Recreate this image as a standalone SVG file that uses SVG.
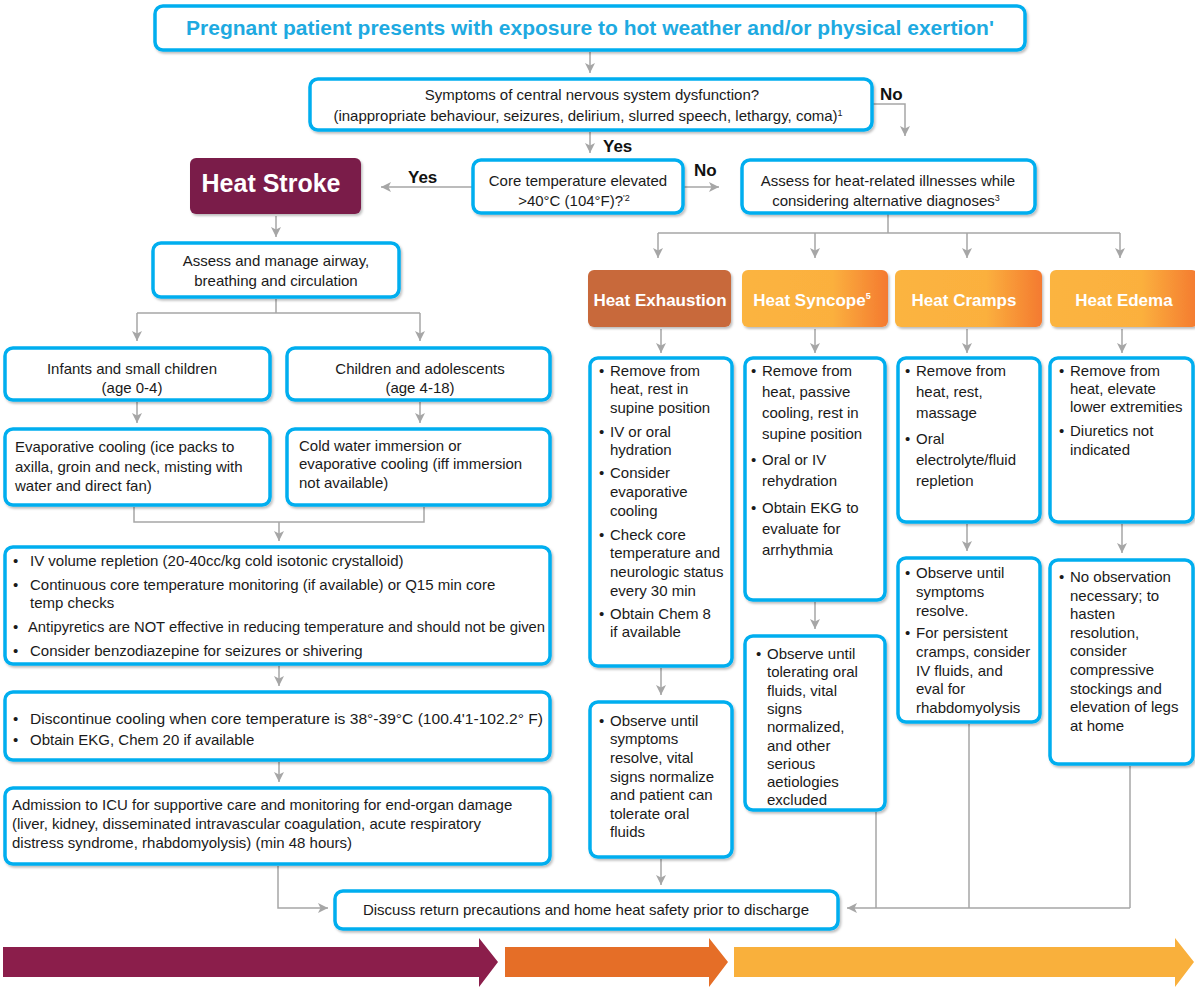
<svg xmlns="http://www.w3.org/2000/svg" width="1195" height="987" viewBox="0 0 1195 987">
<defs>
<style>
.box{fill:#fff;stroke:#00AEEF;stroke-width:3.5;filter:url(#sh)}
.t{font-family:'Liberation Sans',Arial,sans-serif;font-size:15px;fill:#1a1a1a}
.c{text-anchor:middle}
.conn{fill:none;stroke:#A6A6A6;stroke-width:1.5}
.arr{marker-end:url(#ah)}
.lbl{font-family:'Liberation Sans',Arial,sans-serif;font-weight:bold;font-size:17px;fill:#111}
.hd{font-family:'Liberation Sans',Arial,sans-serif;font-weight:bold;font-size:17px;fill:#fff;text-anchor:middle}
.sup{font-size:9px}
</style>
<filter id="sh" x="-5%" y="-5%" width="115%" height="120%">
<feDropShadow dx="1.5" dy="2" stdDeviation="1.2" flood-color="#000" flood-opacity="0.25"/>
</filter>
<linearGradient id="gy" x1="0" y1="0" x2="1" y2="0">
<stop offset="0" stop-color="#FBB440"/>
<stop offset="0.62" stop-color="#FBB03E"/>
<stop offset="1" stop-color="#F47A30"/>
</linearGradient>
<marker id="ah" viewBox="0 0 10 10" refX="10" refY="5" markerWidth="10" markerHeight="10" markerUnits="userSpaceOnUse" orient="auto">
<path d="M0,0 L10,5 L0,10 L2.5,5 Z" fill="#A6A6A6"/>
</marker>
</defs>
<rect width="1195" height="987" fill="#fff"/>

<g id="connectors">
<path class="conn arr" d="M590,52 V73"/>
<path class="conn arr" d="M872,104 H905 V136"/>
<path class="conn arr" d="M590,132 V153"/>
<path class="conn arr" d="M473,187 H381"/>
<path class="conn arr" d="M683,187 H719"/>
<path class="conn" d="M888,214 V233 M658,233 H1120"/>
<path class="conn arr" d="M658,233 V258"/>
<path class="conn arr" d="M815,233 V258"/>
<path class="conn arr" d="M967,233 V258"/>
<path class="conn arr" d="M1120,233 V258"/>
<path class="conn arr" d="M661,329 V353"/>
<path class="conn arr" d="M815,329 V353"/>
<path class="conn arr" d="M967,329 V353"/>
<path class="conn arr" d="M1122,329 V353"/>
<path class="conn arr" d="M661,668 V695"/>
<path class="conn arr" d="M815,602 V629"/>
<path class="conn arr" d="M967,524 V551"/>
<path class="conn arr" d="M1122,524 V553"/>
<path class="conn arr" d="M661,859 V885"/>
<path class="conn" d="M876,812 V908 M969,724 V908 M1130,766 V908"/>
<path class="conn arr" d="M1130,908 H847"/>
<path class="conn arr" d="M276,216 V237"/>
<path class="conn" d="M276,299 V313 M137,313 H420"/>
<path class="conn arr" d="M137,313 V341"/>
<path class="conn arr" d="M420,313 V341"/>
<path class="conn arr" d="M137,402 V423"/>
<path class="conn arr" d="M420,402 V423"/>
<path class="conn" d="M134,507 V522 H424 V507"/>
<path class="conn arr" d="M279,522 V541"/>
<path class="conn arr" d="M279,666 V686"/>
<path class="conn arr" d="M279,762 V782"/>
<path class="conn arr" d="M278,866 V908 H328"/>
</g>

<g id="start">
<rect class="box" x="155" y="6" width="870" height="44" rx="8"/>
<text x="590" y="35" text-anchor="middle" font-family="'Liberation Sans',Arial,sans-serif" font-weight="bold" font-size="21" fill="#1EAAE1">Pregnant patient presents with exposure to hot weather and/or physical exertion'</text>
</g>

<g id="cns">
<rect class="box" x="310" y="79" width="562" height="51" rx="8"/>
<text class="t c" x="592" y="100" font-size="16">Symptoms of central nervous system dysfunction?</text>
<text class="t c" x="588" y="121">(inappropriate behaviour, seizures, delirium, slurred speech, lethargy, coma)<tspan class="sup" dy="-5">1</tspan></text>
</g>

<g id="labels">
<text class="lbl" x="880" y="100">No</text>
<text class="lbl" x="603" y="152">Yes</text>
<text class="lbl" x="408" y="183">Yes</text>
<text class="lbl" x="694" y="176">No</text>
</g>

<g id="core">
<rect class="box" x="473" y="160" width="210" height="53" rx="8"/>
<text class="t c" x="578" y="186">Core temperature elevated</text>
<text class="t c" x="574" y="206">&gt;40°C (104°F)?<tspan class="sup" dy="-5">'2</tspan></text>
</g>

<g id="heatstroke">
<rect x="190" y="158" width="171" height="56" rx="6" fill="#7A1F4A" filter="url(#sh)"/>
<text x="271" y="192" text-anchor="middle" font-family="'Liberation Sans',Arial,sans-serif" font-weight="bold" font-size="25" fill="#fff">Heat Stroke</text>
</g>

<g id="assess">
<rect class="box" x="742" y="160" width="293" height="53" rx="8"/>
<text class="t c" x="888" y="186">Assess for heat-related illnesses while</text>
<text class="t c" x="886" y="206">considering alternative diagnoses<tspan class="sup" dy="-5">3</tspan></text>
</g>

<g id="airway">
<rect class="box" x="153" y="243" width="246" height="54" rx="8"/>
<text class="t c" x="276" y="266">Assess and manage airway,</text>
<text class="t c" x="276" y="286">breathing and circulation</text>
</g>

<g id="infants">
<rect class="box" x="5" y="348" width="265" height="52" rx="8"/>
<text class="t c" x="132" y="374">Infants and small children</text>
<text class="t c" x="132" y="393">(age 0-4)</text>
</g>

<g id="children">
<rect class="box" x="287" y="348" width="263" height="52" rx="8"/>
<text class="t c" x="420" y="374">Children and adolescents</text>
<text class="t c" x="420" y="393">(age 4-18)</text>
</g>

<g id="evap">
<rect class="box" x="5" y="429" width="265" height="76" rx="8"/>
<text class="t" x="15" y="452">Evaporative cooling (ice packs to</text>
<text class="t" x="15" y="472">axilla, groin and neck, misting with</text>
<text class="t" x="15" y="491">water and direct fan)</text>
</g>

<g id="coldwater">
<rect class="box" x="287" y="429" width="263" height="76" rx="8"/>
<text class="t" x="299" y="451">Cold water immersion or</text>
<text class="t" x="299" y="469">evaporative cooling (iff immersion</text>
<text class="t" x="299" y="488">not available)</text>
</g>

<g id="ivbox">
<rect class="box" x="5" y="547" width="545" height="117" rx="8"/>
<text class="t" x="13" y="566">•</text><text class="t" x="30" y="566">IV volume repletion (20-40cc/kg cold isotonic crystalloid)</text>
<text class="t" x="13" y="590">•</text><text class="t" x="30" y="590">Continuous core temperature monitoring (if available) or Q15 min core</text>
<text class="t" x="30" y="608">temp checks</text>
<text class="t" x="13" y="632">•</text><text class="t" x="28" y="632" textLength="517" lengthAdjust="spacingAndGlyphs">Antipyretics are NOT effective in reducing temperature and should not be given</text>
<text class="t" x="13" y="656">•</text><text class="t" x="30" y="656">Consider benzodiazepine for seizures or shivering</text>
</g>

<g id="discontinue">
<rect class="box" x="5" y="692" width="545" height="68" rx="8"/>
<text class="t" x="13" y="724">•</text><text class="t" x="30" y="724" textLength="513" lengthAdjust="spacingAndGlyphs">Discontinue cooling when core temperature is 38°-39°C (100.4'1-102.2° F)</text>
<text class="t" x="13" y="745">•</text><text class="t" x="30" y="745">Obtain EKG, Chem 20 if available</text>
</g>

<g id="icu">
<rect class="box" x="5" y="788" width="545" height="76" rx="8"/>
<text class="t" x="12" y="810">Admission to ICU for supportive care and monitoring for end-organ damage</text>
<text class="t" x="12" y="829">(liver, kidney, disseminated intravascular coagulation, acute respiratory</text>
<text class="t" x="12" y="848">distress syndrome, rhabdomyolysis) (min 48 hours)</text>
</g>

<g id="hdr-exhaustion">
<rect x="588" y="270" width="143" height="57" rx="6" fill="#C8693A" filter="url(#sh)"/>
<text class="hd" x="660" y="306">Heat Exhaustion</text>
</g>
<g id="hdr-syncope">
<rect x="742" y="270" width="146" height="57" rx="6" fill="url(#gy)" filter="url(#sh)"/>
<text class="hd" x="812" y="306">Heat Syncope<tspan class="sup" dy="-7" font-size="10">5</tspan></text>
</g>
<g id="hdr-cramps">
<rect x="895" y="270" width="147" height="57" rx="6" fill="url(#gy)" filter="url(#sh)"/>
<text class="hd" x="964" y="306">Heat Cramps</text>
</g>
<g id="hdr-edema">
<rect x="1050" y="270" width="148" height="57" rx="6" fill="url(#gy)" filter="url(#sh)"/>
<text class="hd" x="1124" y="306">Heat Edema</text>
</g>

<g id="exh-care">
<rect class="box" x="590" y="358" width="142" height="308" rx="8"/>
<text class="t" x="599" y="376">•</text><text class="t" x="610" y="376">Remove from</text>
<text class="t" x="610" y="394">heat, rest in</text>
<text class="t" x="610" y="413">supine position</text>
<text class="t" x="599" y="437">•</text><text class="t" x="610" y="437">IV or oral</text>
<text class="t" x="610" y="455">hydration</text>
<text class="t" x="599" y="478">•</text><text class="t" x="610" y="478">Consider</text>
<text class="t" x="610" y="497">evaporative</text>
<text class="t" x="610" y="516">cooling</text>
<text class="t" x="599" y="540">•</text><text class="t" x="610" y="540">Check core</text>
<text class="t" x="610" y="558">temperature and</text>
<text class="t" x="610" y="577">neurologic status</text>
<text class="t" x="610" y="596">every 30 min</text>
<text class="t" x="599" y="619">•</text><text class="t" x="610" y="619">Obtain Chem 8</text>
<text class="t" x="610" y="637">if available</text>
</g>
<g id="exh-obs">
<rect class="box" x="590" y="702" width="142" height="155" rx="8"/>
<text class="t" x="599" y="726">•</text><text class="t" x="610" y="726">Observe until</text>
<text class="t" x="610" y="744">symptoms</text>
<text class="t" x="610" y="763">resolve, vital</text>
<text class="t" x="610" y="782">signs normalize</text>
<text class="t" x="610" y="800">and patient can</text>
<text class="t" x="610" y="819">tolerate oral</text>
<text class="t" x="610" y="837">fluids</text>
</g>

<g id="syn-care">
<rect class="box" x="745" y="358" width="140" height="242" rx="8"/>
<text class="t" x="751" y="376">•</text><text class="t" x="762" y="376">Remove from</text>
<text class="t" x="762" y="397">heat, passive</text>
<text class="t" x="762" y="418">cooling, rest in</text>
<text class="t" x="762" y="439">supine position</text>
<text class="t" x="751" y="465">•</text><text class="t" x="762" y="465">Oral or IV</text>
<text class="t" x="762" y="486">rehydration</text>
<text class="t" x="751" y="513">•</text><text class="t" x="762" y="513">Obtain EKG to</text>
<text class="t" x="762" y="534">evaluate for</text>
<text class="t" x="762" y="555">arrhythmia</text>
</g>
<g id="syn-obs">
<rect class="box" x="745" y="636" width="140" height="174" rx="8"/>
<text class="t" x="756" y="659">•</text><text class="t" x="767" y="659">Observe until</text>
<text class="t" x="767" y="677">tolerating oral</text>
<text class="t" x="767" y="696">fluids, vital</text>
<text class="t" x="767" y="714">signs</text>
<text class="t" x="767" y="732">normalized,</text>
<text class="t" x="767" y="751">and other</text>
<text class="t" x="767" y="769">serious</text>
<text class="t" x="767" y="787">aetiologies</text>
<text class="t" x="767" y="805">excluded</text>
</g>

<g id="cramp-care">
<rect class="box" x="898" y="358" width="142" height="164" rx="8"/>
<text class="t" x="905" y="376">•</text><text class="t" x="916" y="376">Remove from</text>
<text class="t" x="916" y="397">heat, rest,</text>
<text class="t" x="916" y="418">massage</text>
<text class="t" x="905" y="444">•</text><text class="t" x="916" y="444">Oral</text>
<text class="t" x="916" y="465">electrolyte/fluid</text>
<text class="t" x="916" y="486">repletion</text>
</g>
<g id="cramp-obs">
<rect class="box" x="898" y="558" width="142" height="164" rx="8"/>
<text class="t" x="905" y="578">•</text><text class="t" x="916" y="578">Observe until</text>
<text class="t" x="916" y="597">symptoms</text>
<text class="t" x="916" y="616">resolve.</text>
<text class="t" x="905" y="638">•</text><text class="t" x="916" y="638">For persistent</text>
<text class="t" x="916" y="657">cramps, consider</text>
<text class="t" x="916" y="676">IV fluids, and</text>
<text class="t" x="916" y="694">eval for</text>
<text class="t" x="916" y="713">rhabdomyolysis</text>
</g>

<g id="edema-care">
<rect class="box" x="1050" y="358" width="143" height="164" rx="8"/>
<text class="t" x="1059" y="376">•</text><text class="t" x="1070" y="376">Remove from</text>
<text class="t" x="1070" y="394">heat, elevate</text>
<text class="t" x="1070" y="412">lower extremities</text>
<text class="t" x="1059" y="436">•</text><text class="t" x="1070" y="436">Diuretics not</text>
<text class="t" x="1070" y="455">indicated</text>
</g>
<g id="edema-obs">
<rect class="box" x="1050" y="560" width="143" height="204" rx="8"/>
<text class="t" x="1059" y="582">•</text><text class="t" x="1070" y="582">No observation</text>
<text class="t" x="1070" y="601">necessary; to</text>
<text class="t" x="1070" y="619">hasten</text>
<text class="t" x="1070" y="638">resolution,</text>
<text class="t" x="1070" y="656">consider</text>
<text class="t" x="1070" y="675">compressive</text>
<text class="t" x="1070" y="694">stockings and</text>
<text class="t" x="1070" y="712">elevation of legs</text>
<text class="t" x="1070" y="731">at home</text>
</g>

<g id="discharge">
<rect class="box" x="335" y="891" width="503" height="38" rx="8"/>
<text class="t c" x="586" y="915">Discuss return precautions and home heat safety prior to discharge</text>
</g>

<g id="phase-arrows">
<path d="M3,947 H479 V938 L498,962 L479,987 V977 H3 Z" fill="#8B1E4B"/>
<path d="M505,947 H709 V938 L728,962 L709,987 V977 H505 Z" fill="#E56E27"/>
<path d="M734,947 H1175 V938 L1194,962 L1175,987 V977 H734 Z" fill="#F9B03C"/>
</g>
</svg>
